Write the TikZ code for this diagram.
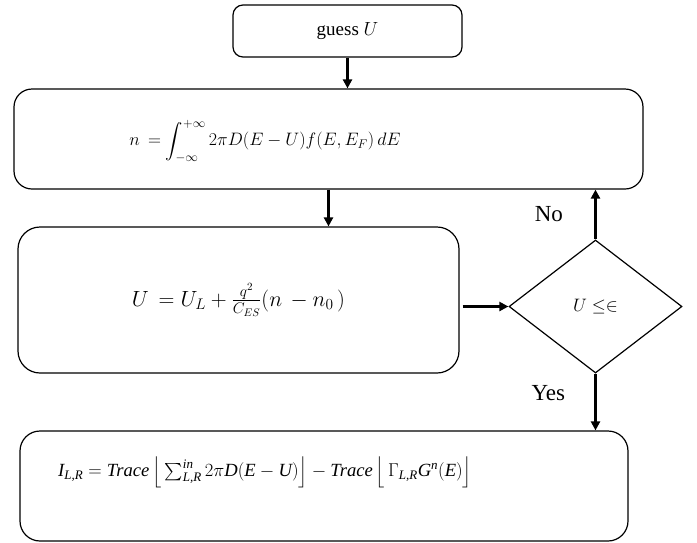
\RequirePackage{fix-cm}
\documentclass[tikz,border=0pt]{standalone}
\usepackage{amsmath}
\usepackage{fontspec}
\setmainfont{Liberation Serif}
\usetikzlibrary{shapes.geometric,arrows.meta}
\newcommand{\tmi}[1]{\textit{#1}}
\begin{document}
\begin{tikzpicture}[x=1pt,y=-1pt,
  box/.style={draw,line width=1.2pt,rectangle,inner sep=0pt},
  arr/.style={line width=2.4pt,-{Triangle[length=9pt,width=9pt]}},
  lbl/.style={font=\fontsize{23}{25}\selectfont}]
\useasboundingbox (0,0) rectangle (697,542);
\node[box,rounded corners=10pt,minimum width=229pt,minimum height=52pt,
  font=\fontsize{19}{21}\selectfont] (guess) at (347.5,31) {guess $U$};
\node[box,rounded corners=18pt,minimum width=629pt,minimum height=100pt] (dens) at (328.5,139) {};
\node[inner sep=0pt,font=\fontsize{18}{20}\selectfont] (denstxt) at (265,141)
  {$n\, = \displaystyle\int_{-\infty}^{+\infty} 2\pi D(E-U) f(E,E_F)\,dE$};
\node[box,rounded corners=22pt,minimum width=441pt,minimum height=146pt,
  font=\fontsize{22}{24}\selectfont] (pot) at (238.5,300)
  {$U\, = U_L + \frac{q^2}{C_{ES}}(n\, - n_0\,)$};
\node[draw,line width=1.2pt,diamond,inner sep=0pt,minimum width=173pt,minimum height=133pt,
  font=\fontsize{18}{20}\selectfont] (dec) at (595.5,306.5) {$U \leq\in$};
\node[box,rounded corners=20pt,minimum width=608pt,minimum height=110pt] (curr) at (324,486) {};
\node[inner sep=0pt,font=\fontsize{18.6}{20}\selectfont] (currtxt) at (265,472)
  {$\tmi{I}_{\tmi{L,R}} = \tmi{Trace}\left\lfloor\, \textstyle\sum_{\tmi{L,R}}^{\tmi{in}} 2\pi \tmi{D}(\tmi{E}-\tmi{U})\vphantom{\Big(}\right\rfloor - \tmi{Trace}\left\lfloor\, \Gamma_{\tmi{L,R}}\tmi{G}^{\tmi{n}}(\tmi{E})\vphantom{\Big(}\right\rfloor$};
\draw[arr] (guess.south) -- (guess.south |- dens.north);
\draw[arr] (dens.south) -- (dens.south |- pot.north);
\draw[arr] (dec.west -| pot.east) ++(3,0) -- (dec.west);
\draw[arr] (dec.north) -- node[lbl,left=28pt] {No} (dec.north |- dens.south);
\draw[arr] (dec.south) -- node[lbl,left=26pt,pos=0.35] {Yes} (dec.south |- curr.north);
\end{tikzpicture}
\end{document}
